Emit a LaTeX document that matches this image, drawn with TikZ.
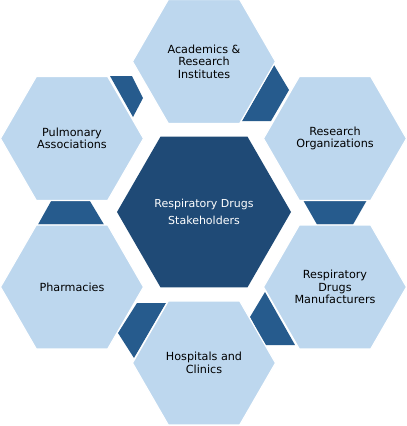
\documentclass[tikz,border=0pt]{standalone}
\usepackage{fontspec}
\setmainfont{DejaVu Sans}
\usetikzlibrary{shapes.geometric}
\definecolor{lightHex}{RGB}{189,215,238}
\definecolor{centerHex}{RGB}{31,74,118}
\definecolor{linkHex}{RGB}{38,91,141}
\tikzset{
  outerhex/.style={regular polygon, regular polygon sides=6, minimum size=143pt, inner sep=0pt,
    fill=lightHex, draw=white, line width=1.2pt, text=black, align=center,
    font=\fontsize{11.2}{12.6}\selectfont},
  centerhexagon/.style={regular polygon, regular polygon sides=6, minimum size=174pt, inner sep=0pt,
    fill=centerHex, text=white, align=center, font=\fontsize{11}{17}\selectfont},
  linkpiece/.style={fill=linkHex, draw=none}
}
\begin{document}
\begin{tikzpicture}[x=1pt,y=-1pt]
\useasboundingbox[fill=white] (0,0) rectangle (407,426);
% dark connecting pieces
\fill[linkpiece] (242,121) -- (274,65) -- (289,90) -- (271,121) -- cycle;
\fill[linkpiece] (110,76) -- (132,76) -- (143,98) -- (133,117) -- cycle;
\fill[linkpiece] (52,199.5) -- (89,199.5) -- (104,224.5) -- (38,224.5) -- cycle;
\fill[linkpiece] (303,200) -- (367,200) -- (353,224.5) -- (317,224.5) -- cycle;
\fill[linkpiece] (137,303) -- (166,303) -- (134,358) -- (118,333) -- cycle;
\fill[linkpiece] (265,292) -- (250,317) -- (265,345) -- (295,345) -- cycle;
% hexagons
\node[centerhexagon] (center) at (204,212) {Respiratory Drugs\\Stakeholders};
\node[outerhex] (academics) at (204,61.5) {Academics \&\\Research\\Institutes};
\node[outerhex] (pulmonary) at (72,138.5) {Pulmonary\\Associations};
\node[outerhex] (research) at (335,138.5) {Research\\Organizations};
\node[outerhex] (pharmacies) at (72,287) {Pharmacies};
\node[outerhex] (manufacturers) at (335,287) {Respiratory\\Drugs\\Manufacturers};
\node[outerhex] (hospitals) at (204,363) {Hospitals and\\Clinics};
\end{tikzpicture}
\end{document}
